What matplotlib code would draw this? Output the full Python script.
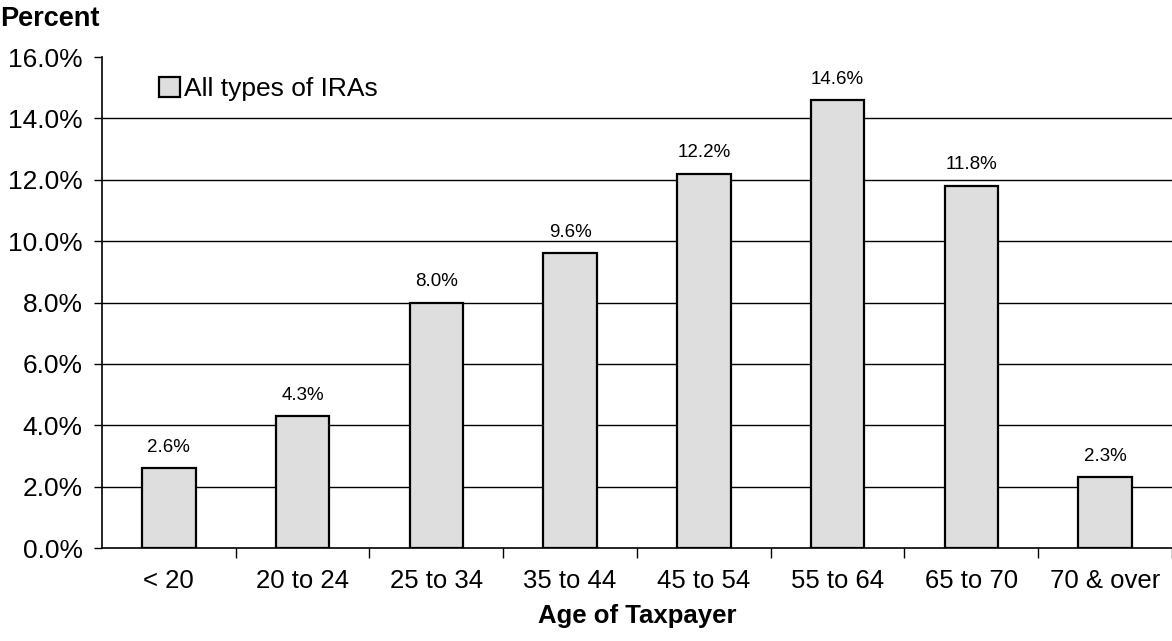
import numpy as np
import matplotlib
matplotlib.use('Agg')
import matplotlib.pyplot as plt
from matplotlib.patches import Patch
import matplotlib.ticker as mticker

plt.rcParams['font.family'] = ['Liberation Sans', 'DejaVu Sans']

# data
categories = ['< 20', '20 to 24', '25 to 34', '35 to 44', '45 to 54',
              '55 to 64', '65 to 70', '70 & over']
values = [2.6, 4.3, 8.0, 9.6, 12.2, 14.6, 11.8, 2.3]
value_labels = ['2.6%', '4.3%', '8.0%', '9.6%', '12.2%', '14.6%', '11.8%', '2.3%']
yticks = [0, 2, 4, 6, 8, 10, 12, 14, 16]

fig = plt.figure(figsize=(11.72, 6.41), dpi=100)
ax = fig.add_axes([0.087, 0.145, 0.913, 0.766])

x = np.arange(len(categories))
bars = ax.bar(x, values, width=0.4, color='#dedede', edgecolor='black',
              linewidth=1.6, zorder=3)

for xi, v, lab in zip(x, values, value_labels):
    ax.annotate(lab, (xi, v), xytext=(0, 9), textcoords='offset points',
                ha='center', va='bottom', fontsize=13.5)

# grid lines (2%..14%)
for yv in yticks[1:-1]:
    ax.axhline(yv, color='black', linewidth=1.0, zorder=1)

ax.set_xlim(-0.5, len(categories) - 0.5)
ax.set_ylim(0, 16)
ax.set_yticks(yticks)
ax.set_yticklabels([f'{t:.1f}%' for t in yticks], fontsize=19)
ax.tick_params(axis='y', direction='out', length=6, width=1, pad=8)

ax.set_xticks(x)
ax.set_xticklabels(categories, fontsize=18.5)
ax.tick_params(axis='x', which='major', length=0, pad=15)
ax.xaxis.set_minor_locator(mticker.FixedLocator(np.arange(len(categories)) + 0.5))
ax.tick_params(axis='x', which='minor', direction='out', length=7, width=1)

for s in ['top', 'right']:
    ax.spines[s].set_visible(False)
ax.spines['left'].set_linewidth(1.2)
ax.spines['bottom'].set_linewidth(1.2)

ax.set_xlabel('Age of Taxpayer', fontsize=18.5, fontweight='bold', labelpad=8)
fig.text(0.0, 0.97, 'Percent', fontsize=19.5, fontweight='bold',
         ha='left', va='center')

handle = Patch(facecolor='#dedede', edgecolor='black', linewidth=1.6)
ax.legend([handle], ['All types of IRAs'], loc='center left',
          bbox_to_anchor=(0.043, 0.935), frameon=False, fontsize=19,
          handlelength=0.8, handleheight=0.8, handletextpad=0.15,
          borderaxespad=0)

fig.savefig('out.png', dpi=100)
